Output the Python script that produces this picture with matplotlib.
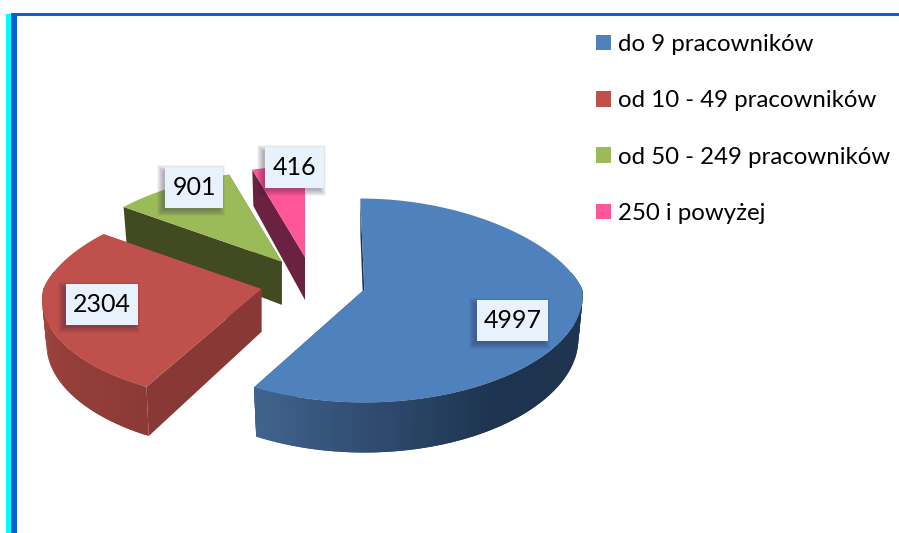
import numpy as np
import matplotlib
matplotlib.use("Agg")
import matplotlib.pyplot as plt
from matplotlib.colors import LinearSegmentedColormap
from matplotlib.patches import Patch, Rectangle

plt.rcParams["font.family"] = ["Lato", "DejaVu Sans"]

categories = ["do 9 pracowników", "od 10 - 49 pracowników", "od 50 - 249 pracowników", "250 i powyżej"]
values = [4997, 2304, 901, 416]

top_colors = ["#4f81bd", "#bf504c", "#9bbb59", "#ff5599"]
edge_walls = ["#1c3350", "#883835", "#414a21", "#6b2140"]
arc_walls = [["#1f3550", "#1d334f", "#41648f"], ["#8c3a36", "#a5463f"], ["#414a21", "#414a21"], ["#6b2140", "#6b2140"]]

# layout of the pie, in pixels
center_x, center_y = 313, 283
radius_x = 218
explode = 0.243
lean = [-4, 0, 0, 0]
spread_back = 0.2
spread_front = [0.06, 0.11, 0.14, 0.14]
label_boxes = [(477, 300, 71), (66, 284, 72), (165, 167, 58), (265, 147, 59)]
box_height = 41


def project(i, u, v, cx, cy):
    spread = np.where(v > 0, spread_back, spread_front[i])
    x = cx + radius_x * u * (1 - spread * v) + lean[i] * np.clip(v, 0, 1)
    y = cy - (102 * v - 11 * v * v)
    return x, y


def lower(x, y, v, cx):
    return cx + (x - cx) * 0.98, y + 43 - 7 * v


def draw_slice(i, start, stop):
    mid = np.radians((start + stop) / 2)
    cx = center_x + explode * radius_x * np.sin(mid)
    cy = center_y - explode * 108 * np.cos(mid)

    ang = np.radians(np.linspace(start, stop, 120))
    u, v = np.sin(ang), np.cos(ang)
    x, y = project(i, u, v, cx, cy)

    # flat walls along the two cut edges
    for k in (-1, 0):
        ex = np.array([cx, x[k]])
        ey = np.array([cy, y[k]])
        ev = np.array([0, v[k]])
        bx, by = lower(ex, ey, ev, cx)
        ax.fill(np.r_[ex, bx[::-1]], np.r_[ey, by[::-1]], color=edge_walls[i], lw=0)

    # curved wall, shaded along the arc; each strip overlaps the next so no seams show
    a0, a1 = max(start, 80), min(stop, 280)
    if a1 > a0:
        cmap = LinearSegmentedColormap.from_list("wall", arc_walls[i])
        steps = np.linspace(a0, a1, 70)
        for n, s0 in enumerate(steps[:-1]):
            t = np.radians(np.linspace(s0, steps[min(n + 2, 69)], 4))
            qx, qy = project(i, np.sin(t), np.cos(t), cx, cy)
            bx, by = lower(qx, qy, np.cos(t), cx)
            ax.fill(np.r_[qx, bx[::-1]], np.r_[qy, by[::-1]],
                    color=cmap((s0 - a0) / (a1 - a0)), lw=0)

    ax.fill(np.r_[cx, x], np.r_[cy, y], color=top_colors[i], lw=0)


fig = plt.figure(figsize=(8.99, 5.33), dpi=100)
ax = fig.add_axes([0, 0, 1, 1])
ax.set_xlim(0, 899)
ax.set_ylim(533, 0)
ax.axis("off")

# page frame
ax.add_patch(Rectangle((6, 14), 5, 519, color="#00ffff", lw=0))
ax.add_patch(Rectangle((11, 13), 6, 520, color="#0a5fd8", lw=0))
ax.add_patch(Rectangle((11, 13), 888, 3.3, color="#0a5fd8", lw=0))

bounds = np.r_[0, np.cumsum(values)] / np.sum(values) * 360
for i in [3, 2, 1, 0]:
    draw_slice(i, bounds[i], bounds[i + 1])

for value, (bx, by, bw) in zip(values, label_boxes):
    for grow in np.linspace(5, -1, 10):
        ax.add_patch(Rectangle((bx - 3 - grow, by + 3 - grow), bw + 2 * grow, box_height + 2 * grow,
                               color="#2a2040", alpha=0.04, lw=0))
    ax.add_patch(Rectangle((bx, by), bw, box_height, color="#e8f2fd", lw=0))
    ax.text(bx + bw / 2, by + box_height / 2, str(value), ha="center", va="center",
            fontsize=18, color="black")

handles = [Patch(facecolor=c, edgecolor="none") for c in top_colors]
ax.legend(handles, categories, loc="upper left", bbox_to_anchor=(596, 34),
          bbox_transform=ax.transData, frameon=False, fontsize=17.3, borderpad=0, borderaxespad=0,
          handlelength=0.63, handleheight=0.63, handletextpad=0.3, labelspacing=1.47,
          labelcolor="black")

fig.savefig("out.png", dpi=100)
